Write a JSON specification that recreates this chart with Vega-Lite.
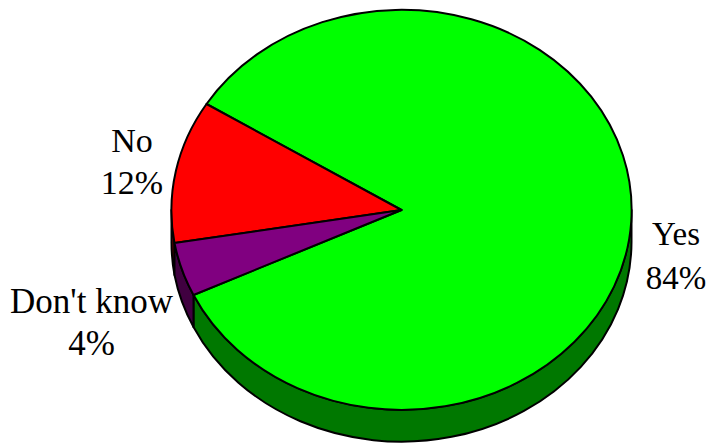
{
"$schema":"https://vega.github.io/schema/vega-lite/v6.json",
"autosize":"none",
"width":706,"height":443,"padding":0,
"background":"white",
"view":{"stroke":null},
"config":{"view":{"stroke":null}},
"data":{"values":[
{"answer":"Yes","share":84,"label":["Yes","84%"]},
{"answer":"No","share":12,"label":["No","12%"]},
{"answer":"Don't know","share":4,"label":["Don't know","4%"]}
]},
"encoding":{
"x":{"datum":0,"type":"quantitative","scale":{"domain":[-401.5,304.5],"nice":false,"zero":false},"axis":null},
"y":{"datum":0,"type":"quantitative","scale":{"domain":[233,-210],"nice":false,"zero":false},"axis":null}
},
"layer":[
{"mark":{"type":"point","filled":true,"opacity":1,"stroke":"black","strokeWidth":2,"strokeJoin":"round"},
"encoding":{
"size":{"value":4},
"fill":{"field":"answer","type":"nominal","legend":null,"scale":{"domain":["Yes","No","Don't know"],"range":["#007800","#800000","#400040"]}},
"shape":{"field":"answer","type":"nominal","legend":null,"scale":{"domain":["Yes","No","Don't know"],"range":[
"M230,0 L230,32 A230,200 0 0 1 -208,117 L-208,85 A230,200 0 0 0 230,0 Z",
"M-230,0 L-230,32 A230,200 0 0 0 -227,65 L-227,33 A230,200 0 0 1 -230,0 Z",
"M-208,85 L-208,117 A230,200 0 0 1 -227,65 L-227,33 A230,200 0 0 0 -208,85 Z"]}}
}},
{"mark":{"type":"point","filled":true,"opacity":1,"stroke":"black","strokeWidth":2,"strokeJoin":"round"},
"encoding":{
"size":{"value":4},
"fill":{"field":"answer","type":"nominal","legend":null,"scale":{"domain":["Yes","No","Don't know"],"range":["#00ff00","#ff0000","#800080"]}},
"shape":{"field":"answer","type":"nominal","legend":null,"scale":{"domain":["Yes","No","Don't know"],"range":[
"M0,0 L-195,-106 A230,200 0 1 1 -208,85 Z",
"M0,0 L-227,33 A230,200 0 0 1 -195,-106 Z",
"M0,0 L-208,85 A230,200 0 0 1 -227,33 Z"]}}
}},
{"transform":[{"filter":"datum.answer==='Yes'"}],
"mark":{"type":"text","font":"Liberation Serif","fontSize":33,"lineHeight":44,"align":"center","baseline":"alphabetic","color":"black"},
"encoding":{"x":{"datum":274.5,"type":"quantitative"},"y":{"datum":35,"type":"quantitative"},"text":{"field":"label"}}},
{"transform":[{"filter":"datum.answer==='No'"}],
"mark":{"type":"text","font":"Liberation Serif","fontSize":34,"lineHeight":42,"align":"center","baseline":"alphabetic","color":"black"},
"encoding":{"x":{"datum":-269.5,"type":"quantitative"},"y":{"datum":-58,"type":"quantitative"},"text":{"field":"label"}}},
{"transform":[{"filter":"datum.answer==='Don\\'t know'"}],
"mark":{"type":"text","font":"Liberation Serif","fontSize":35,"lineHeight":42,"align":"center","baseline":"alphabetic","color":"black"},
"encoding":{"x":{"datum":-310,"type":"quantitative"},"y":{"datum":103,"type":"quantitative"},"text":{"field":"label"}}}
],
"resolve":{"scale":{"shape":"independent","fill":"independent"}}
}
